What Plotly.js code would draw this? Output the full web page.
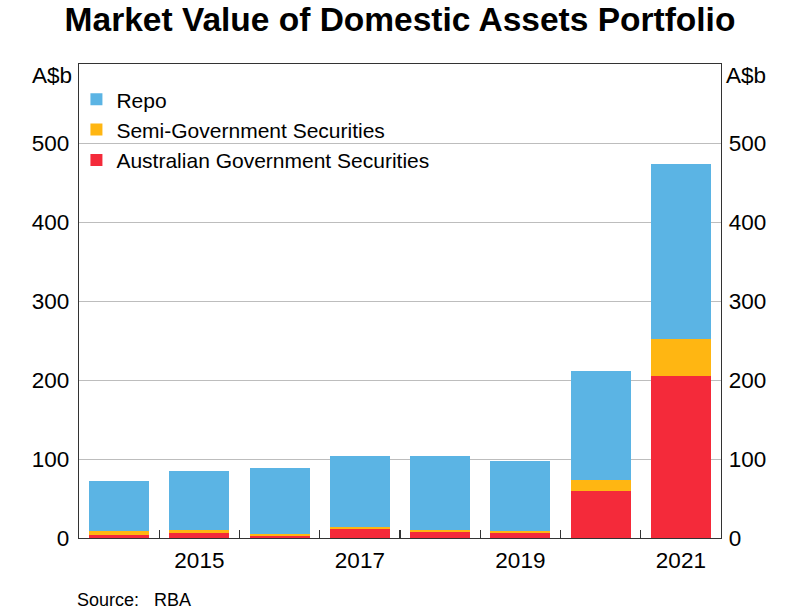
<!DOCTYPE html>
<html>
<head>
<meta charset="utf-8">
<script src="https://cdn.plot.ly/plotly-3.0.1.min.js"></script>
<style>html,body{margin:0;padding:0;background:#fff;}#chart{width:800px;height:611px;}</style>
</head>
<body>
<div id="chart"></div>
<script>
const years = [2014, 2015, 2016, 2017, 2018, 2019, 2020, 2021];
const ags = [4, 6, 2.5, 11, 7, 6.5, 59, 205];
const semi = [4.5, 4, 2.5, 2.5, 3.5, 2.5, 14, 47];
const repo = [64, 75, 83, 90.5, 93, 88, 138, 222];
const xTickVals = [2015, 2017, 2019, 2021];
const xTickText = ['2015', '2017', '2019', '2021'];
const yTickVals = [0, 100, 200, 300, 400, 500];
const boundaries = [2014.5, 2015.5, 2016.5, 2017.5, 2018.5, 2019.5, 2020.5];

const font = 'Liberation Sans, Arial, sans-serif';
const traces = [
  {type: 'bar', x: years, y: ags, name: 'Australian Government Securities', marker: {color: '#F42A3A'}},
  {type: 'bar', x: years, y: semi, name: 'Semi-Government Securities', marker: {color: '#FFB612'}},
  {type: 'bar', x: years, y: repo, name: 'Repo', marker: {color: '#5BB4E4'}},
  {type: 'scatter', x: [2014], y: [0], xaxis: 'x2', yaxis: 'y2', mode: 'markers', marker: {opacity: 0}, showlegend: false, hoverinfo: 'skip'}
];

const layout = {
  width: 800, height: 611,
  margin: {l: 79, r: 79, t: 64, b: 73},
  paper_bgcolor: '#fff', plot_bgcolor: '#fff',
  barmode: 'stack', bargap: 0.25,
  font: {family: font, color: '#000', size: 22},
  title: {text: '<b>Market Value of Domestic Assets Portfolio</b>', font: {family: font, size: 33.5, color: '#000'}, x: 0.5, xanchor: 'center', y: 0.969, yanchor: 'middle'},
  showlegend: true,
  legend: {x: -0.004, y: 0.968, xanchor: 'left', yanchor: 'top', traceorder: 'reversed', bgcolor: 'rgba(0,0,0,0)', font: {family: font, size: 21, color: '#000'}},
  xaxis: {
    range: [2013.5, 2021.5], tickvals: xTickVals, ticktext: xTickText, ticks: '', ticklabelstandoff: 2,
    showline: true, linecolor: '#333', linewidth: 1.3, mirror: true, showgrid: false, zeroline: false,
    tickfont: {family: font, size: 22.5, color: '#000'}
  },
  xaxis2: {
    overlaying: 'x', range: [2013.5, 2021.5], tickvals: boundaries, ticks: 'inside', ticklen: 8, tickwidth: 1.3, tickcolor: '#333',
    showticklabels: false, showgrid: false, zeroline: false, showline: false, anchor: 'y'
  },
  yaxis: {
    range: [0, 600], tickvals: yTickVals, ticks: '', showline: true, linecolor: '#333', linewidth: 1.3,
    showgrid: true, gridcolor: '#bdbdbd', gridwidth: 1, zeroline: false, ticklabelstandoff: 4,
    tickfont: {family: font, size: 22.5, color: '#000'}
  },
  yaxis2: {
    overlaying: 'y', side: 'right', range: [0, 600], tickvals: yTickVals, ticks: '', showline: true, linecolor: '#333', linewidth: 1.3,
    showgrid: false, zeroline: false, ticklabelstandoff: 2, tickfont: {family: font, size: 22.5, color: '#000'}
  },
  annotations: [
    {text: 'A$b', xref: 'paper', yref: 'paper', x: -0.008, y: 0.975, xanchor: 'right', yanchor: 'middle', showarrow: false, font: {family: font, size: 22.5, color: '#000'}},
    {text: 'A$b', xref: 'paper', yref: 'paper', x: 1.004, y: 0.975, xanchor: 'left', yanchor: 'middle', showarrow: false, font: {family: font, size: 22.5, color: '#000'}},
    {text: 'Source:&nbsp;&nbsp;&nbsp;RBA', xref: 'paper', yref: 'paper', x: -0.006, y: -0.131, xanchor: 'left', yanchor: 'middle', showarrow: false, font: {family: font, size: 18, color: '#000'}}
  ]
};

Plotly.newPlot('chart', traces, layout, {displayModeBar: false, staticPlot: true});
</script>
</body>
</html>
